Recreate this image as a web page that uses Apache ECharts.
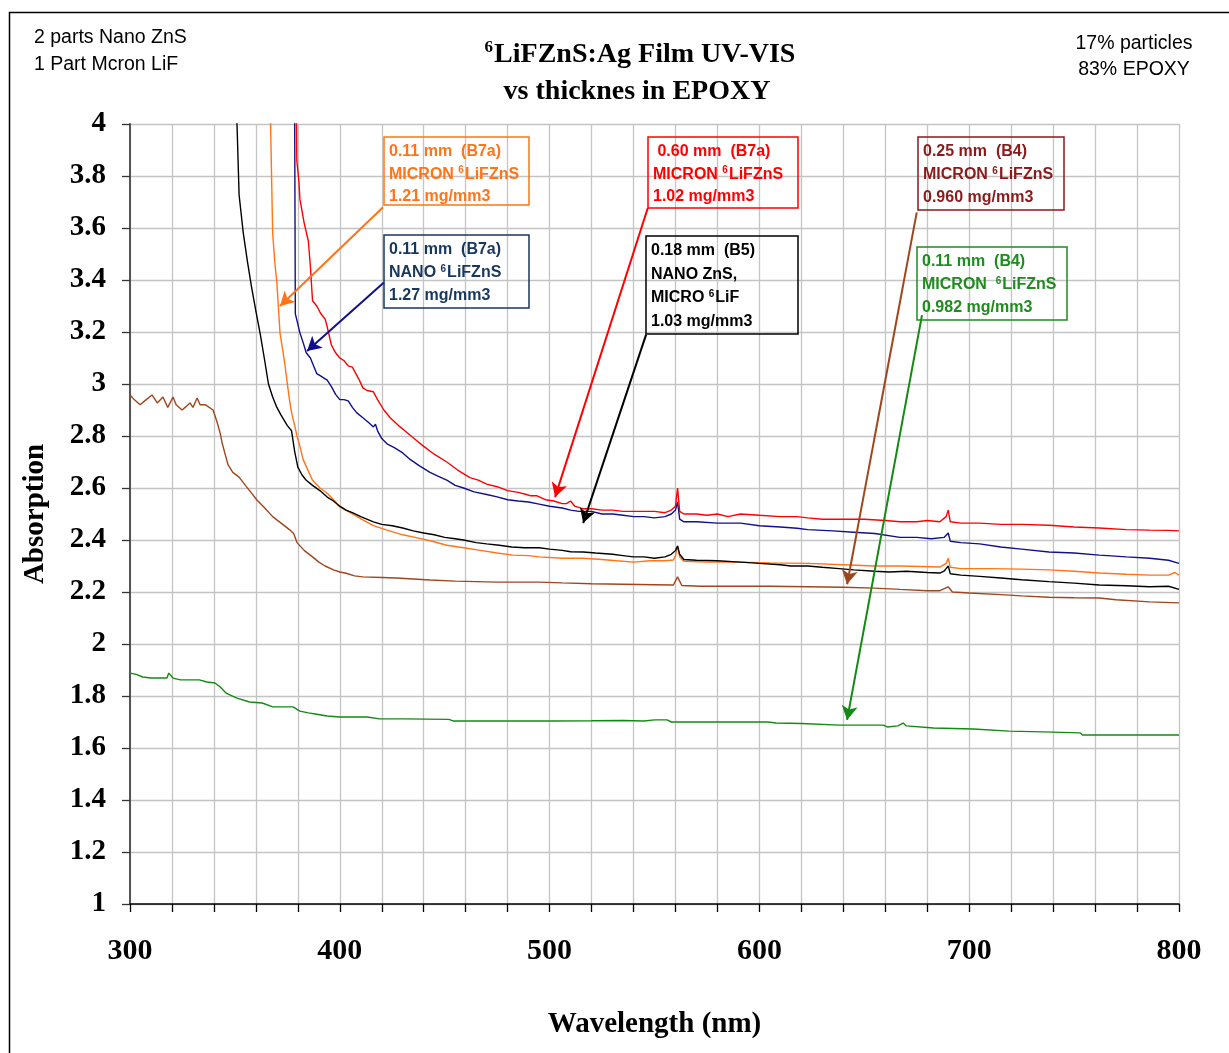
<!DOCTYPE html>
<html>
<head>
<meta charset="utf-8">
<script src="https://cdn.jsdelivr.net/npm/echarts@6/dist/echarts.min.js"></script>
<style>
  html, body { margin: 0; padding: 0; background: #fff; }
  #chart { width: 1229px; height: 1053px; }
</style>
</head>
<body>
<div id="chart"></div>
<script>
// wavelength (nm), absorption
const red = [[379, 4.4], [379.5, 3.86], [380.5, 3.78], [381, 3.71], [383, 3.62], [385, 3.55], [386, 3.45], [387, 3.32], [389, 3.3], [391, 3.27], [393, 3.25], [394, 3.22], [396, 3.15], [398, 3.12], [400, 3.1], [402, 3.09], [404, 3.07], [406, 3.065], [409, 3.02], [411, 2.985], [413, 2.975], [416, 2.97], [418, 2.94], [421, 2.9], [424, 2.87], [428, 2.84], [431, 2.82], [434, 2.8], [437, 2.78], [440, 2.76], [445, 2.73], [451, 2.7], [456, 2.67], [462, 2.64], [466, 2.63], [470, 2.615], [475, 2.605], [480, 2.59], [485, 2.583], [489, 2.575], [491, 2.57], [494, 2.57], [498, 2.555], [502, 2.55], [506, 2.54], [508, 2.54], [510, 2.55], [512, 2.53], [516, 2.52], [520, 2.52], [525, 2.515], [530, 2.515], [535, 2.51], [540, 2.51], [545, 2.51], [550, 2.51], [555, 2.505], [558, 2.515], [560, 2.53], [561, 2.6], [562, 2.51], [564, 2.5], [570, 2.5], [575, 2.495], [580, 2.5], [585, 2.49], [591, 2.5], [600, 2.495], [610, 2.49], [618, 2.49], [623, 2.485], [630, 2.48], [640, 2.48], [650, 2.48], [660, 2.475], [667, 2.47], [675, 2.47], [680, 2.475], [686, 2.47], [689, 2.49], [690, 2.515], [691, 2.47], [696, 2.465], [705, 2.465], [715, 2.46], [725, 2.46], [738, 2.457], [750, 2.45], [762, 2.446], [775, 2.44], [786, 2.438], [795, 2.437], [800, 2.435]];

const navy = [[378.3, 4.5], [378.8, 3.27], [380, 3.23], [381, 3.196], [382.5, 3.16], [384, 3.12], [386, 3.1], [387, 3.08], [389, 3.04], [391, 3.03], [393, 3.02], [394, 3.015], [396, 2.99], [398, 2.96], [400, 2.94], [402, 2.94], [404, 2.935], [406, 2.91], [408, 2.89], [411, 2.87], [414, 2.85], [416, 2.835], [417, 2.845], [418, 2.82], [420, 2.79], [422.5, 2.77], [426, 2.755], [430, 2.735], [433.5, 2.71], [438, 2.685], [443, 2.66], [447, 2.645], [451, 2.63], [455, 2.61], [459, 2.6], [464, 2.585], [470, 2.575], [475, 2.566], [480, 2.555], [485, 2.55], [490, 2.546], [495, 2.538], [500, 2.53], [506, 2.523], [510, 2.515], [514, 2.51], [520, 2.51], [525, 2.5], [530, 2.5], [535, 2.495], [540, 2.49], [545, 2.49], [550, 2.485], [555, 2.49], [558, 2.5], [560, 2.515], [561, 2.546], [562, 2.48], [564, 2.47], [570, 2.47], [580, 2.465], [591, 2.465], [600, 2.455], [610, 2.45], [618, 2.445], [623, 2.44], [635, 2.435], [645, 2.43], [655, 2.425], [667, 2.41], [675, 2.41], [682, 2.405], [688, 2.41], [690, 2.427], [691, 2.395], [696, 2.39], [705, 2.385], [715, 2.373], [725, 2.365], [738, 2.354], [750, 2.35], [762, 2.342], [775, 2.335], [786, 2.33], [795, 2.322], [800, 2.31]];

const black = [[349, 4.4], [351, 4.0], [352, 3.727], [354, 3.58], [356, 3.47], [358, 3.37], [360, 3.28], [362, 3.196], [364, 3.1], [366, 3.0], [368, 2.95], [370, 2.91], [372, 2.88], [375, 2.84], [377, 2.82], [378.5, 2.74], [380, 2.68], [382, 2.65], [384, 2.63], [387, 2.61], [390.5, 2.59], [394, 2.565], [397, 2.55], [400, 2.53], [403, 2.515], [406, 2.505], [410, 2.49], [416, 2.47], [420, 2.46], [425, 2.455], [430, 2.446], [435, 2.435], [440, 2.427], [445, 2.42], [450, 2.41], [455, 2.405], [459, 2.4], [465, 2.39], [470, 2.385], [476, 2.38], [482, 2.373], [488, 2.37], [495, 2.37], [500, 2.365], [506, 2.36], [510, 2.355], [516, 2.354], [522, 2.35], [530, 2.345], [535, 2.34], [540, 2.335], [545, 2.335], [550, 2.33], [555, 2.335], [558, 2.345], [560, 2.36], [561, 2.377], [562, 2.345], [564, 2.325], [570, 2.322], [580, 2.32], [591, 2.315], [600, 2.31], [610, 2.305], [615, 2.3], [623, 2.3], [630, 2.295], [638, 2.29], [645, 2.285], [655, 2.28], [662, 2.277], [670, 2.28], [680, 2.275], [686, 2.273], [688, 2.28], [689, 2.29], [690, 2.3], [691, 2.27], [696, 2.265], [705, 2.26], [715, 2.254], [725, 2.247], [738, 2.24], [750, 2.234], [762, 2.227], [775, 2.224], [786, 2.22], [795, 2.222], [800, 2.21]];

const orange = [[366.5, 4.4], [367, 4.0], [368, 3.58], [369, 3.47], [370, 3.39], [371.5, 3.196], [373, 3.12], [374, 3.065], [375, 3.0], [376, 2.94], [377, 2.89], [378.5, 2.84], [379.6, 2.8], [381, 2.76], [382.5, 2.71], [385, 2.665], [387, 2.63], [390.6, 2.6], [394, 2.58], [397, 2.555], [400, 2.527], [405, 2.505], [411, 2.477], [416, 2.455], [422.5, 2.438], [430, 2.42], [437, 2.408], [444, 2.395], [451, 2.38], [459, 2.37], [467, 2.36], [475, 2.35], [482.5, 2.342], [490, 2.34], [495, 2.335], [506, 2.33], [516, 2.33], [525, 2.325], [532, 2.32], [540, 2.315], [548, 2.32], [555, 2.32], [559, 2.323], [560, 2.34], [561, 2.377], [562, 2.335], [564, 2.318], [575, 2.315], [591, 2.315], [605, 2.312], [623, 2.31], [640, 2.305], [655, 2.3], [667, 2.3], [677, 2.298], [686, 2.296], [689, 2.31], [690, 2.33], [691, 2.295], [696, 2.29], [710, 2.29], [725, 2.288], [738, 2.285], [750, 2.28], [762, 2.273], [775, 2.268], [786, 2.265], [795, 2.265], [798, 2.275], [800, 2.265]];

const brown = [[300, 2.958], [302, 2.94], [304.8, 2.92], [307, 2.935], [310.5, 2.958], [313, 2.927], [315.7, 2.95], [318, 2.91], [320.5, 2.95], [322, 2.92], [324.8, 2.9], [327, 2.915], [328.6, 2.927], [330, 2.91], [332, 2.946], [333.4, 2.92], [336, 2.92], [339.6, 2.9], [341.5, 2.854], [343, 2.81], [344, 2.77], [346.7, 2.69], [349, 2.66], [352, 2.642], [355, 2.61], [357, 2.59], [360.5, 2.554], [364, 2.525], [368, 2.49], [372, 2.465], [376, 2.44], [378, 2.425], [379.6, 2.39], [383, 2.36], [387, 2.335], [390, 2.315], [393, 2.3], [397, 2.285], [400, 2.277], [403, 2.272], [407, 2.262], [411, 2.258], [420, 2.256], [427, 2.254], [435, 2.25], [443, 2.246], [455, 2.242], [465, 2.24], [475, 2.238], [485, 2.238], [495, 2.238], [506, 2.235], [520, 2.232], [535, 2.23], [550, 2.228], [559, 2.227], [561, 2.258], [563, 2.225], [572, 2.222], [590, 2.222], [605, 2.222], [623, 2.22], [640, 2.218], [655, 2.215], [667, 2.21], [680, 2.205], [686, 2.205], [690, 2.22], [692, 2.2], [700, 2.196], [715, 2.19], [725, 2.185], [738, 2.18], [750, 2.178], [762, 2.177], [770, 2.17], [786, 2.162], [800, 2.158]];

const green = [[300, 1.888], [303, 1.883], [306, 1.873], [310, 1.869], [317.6, 1.869], [318.5, 1.888], [320.5, 1.869], [324, 1.862], [333, 1.862], [336.7, 1.854], [340.5, 1.85], [343, 1.835], [346, 1.81], [351, 1.792], [357, 1.777], [363, 1.773], [368, 1.758], [377.7, 1.758], [381, 1.742], [385, 1.735], [389, 1.73], [394, 1.723], [400, 1.719], [413, 1.719], [419, 1.712], [430, 1.712], [452, 1.71], [454, 1.704], [476, 1.704], [500, 1.704], [520, 1.705], [535, 1.706], [545, 1.704], [550, 1.708], [556, 1.708], [558, 1.7], [575, 1.7], [590, 1.7], [604, 1.7], [608, 1.696], [620, 1.694], [638, 1.688], [659, 1.688], [661, 1.681], [666, 1.685], [668.5, 1.696], [670, 1.685], [683, 1.677], [702, 1.673], [719, 1.665], [735, 1.662], [753, 1.658], [754, 1.65], [780, 1.65], [800, 1.65]];

// annotation arrows: [from, to] in data coordinates
const arrowOrange = [[420.6, 3.68], [371.5, 3.30]];
const arrowNavy = [[421, 3.39], [384.4, 3.127]];
const arrowRed = [[546.8, 3.677], [502.6, 2.565]];
const arrowBlack = [[546, 3.19], [516, 2.465]];
const arrowBrown = [[675, 3.66], [641.8, 2.23]];
const arrowGreen = [[677.5, 3.265], [641.8, 1.708]];

const SANS = 'Liberation Sans, Arial, sans-serif';
const SERIF = 'Liberation Serif, Times New Roman, serif';

const chart = echarts.init(document.getElementById('chart'));

function series(name, data, color, arrow) {
  return {
    name: name,
    type: 'line',
    data: data,
    showSymbol: false,
    symbol: 'none',
    clip: true,
    lineStyle: { color: color, width: 1.4 },
    animation: false,
    z: 3,
    markLine: {
      silent: true,
      symbol: ['none', 'arrow'],
      symbolSize: [12, 14],
      label: { show: false },
      lineStyle: { color: color, width: 2, type: 'solid' },
      data: [[{ coord: arrow[0] }, { coord: arrow[1] }]],
      animation: false
    }
  };
}

// annotation box: rect + lines of (rich) text
function box(x, y, w, h, color, lines, lineH) {
  const children = [{
    type: 'rect',
    z: 20,
    shape: { x: x, y: y, width: w, height: h },
    style: { fill: 'none', stroke: color, lineWidth: 1.5 }
  }];
  lines.forEach(function (t, i) {
    children.push({
      type: 'text',
      z: 20,
      x: x + 5,
      y: y + 15 + i * lineH,
      style: {
        text: t,
        fill: color,
        font: 'bold 16px ' + SANS,
        textVerticalAlign: 'middle',
        rich: {
          s: { fontSize: 10, fontWeight: 'bold', fontFamily: SANS, fill: color, verticalAlign: 'top', padding: [0, 1, 8, 0] }
        }
      }
    });
  });
  return { type: 'group', children: children };
}

const option = {
  backgroundColor: '#fff',
  animation: false,
  grid: { left: 130, right: 50, top: 124, bottom: 149 },
  xAxis: {
    type: 'value',
    min: 300,
    max: 800,
    interval: 20,
    name: 'Wavelength (nm)',
    nameLocation: 'middle',
    nameGap: 106,
    nameTextStyle: { fontFamily: SERIF, fontWeight: 'bold', fontSize: 29, color: '#000' },
    axisLine: { show: true, onZero: false, lineStyle: { color: '#000', width: 1.5 } },
    axisTick: { show: true, length: 8, lineStyle: { color: '#000', width: 1.3 } },
    axisLabel: {
      margin: 32,
      fontFamily: SERIF, fontWeight: 'bold', fontSize: 30, color: '#000',
      formatter: function (v) { return v % 100 === 0 ? String(v) : ''; }
    },
    splitLine: { show: true, lineStyle: { color: '#c4c4c4', width: 1.3 } }
  },
  yAxis: {
    type: 'value',
    min: 1,
    max: 4,
    interval: 0.2,
    name: 'Absorption',
    nameLocation: 'middle',
    nameGap: 80,
    nameTextStyle: { fontFamily: SERIF, fontWeight: 'bold', fontSize: 29, color: '#000' },
    axisLine: { show: true, lineStyle: { color: '#555', width: 2 } },
    axisTick: { show: true, length: 8, lineStyle: { color: '#333', width: 1.3 } },
    axisLabel: {
      margin: 24,
      fontFamily: SERIF, fontWeight: 'bold', fontSize: 29, color: '#000',
      formatter: function (v) { return String(Math.round(v * 10) / 10); }
    },
    splitLine: { show: true, lineStyle: { color: '#c4c4c4', width: 1.3 } }
  },
  series: [
    series('brown', brown, '#a0461e', arrowBrown),
    series('green', green, '#138a13', arrowGreen),
    series('orange', orange, '#ff7416', arrowOrange),
    series('black', black, '#000000', arrowBlack),
    series('navy', navy, '#10108a', arrowNavy),
    series('red', red, '#ff0000', arrowRed)
  ],
  graphic: [
    {
      type: 'rect', z: 0, silent: true,
      shape: { x: 9.5, y: 12.5, width: 1240, height: 1060 },
      style: { fill: 'none', stroke: '#000', lineWidth: 1.5 }
    },
    { type: 'text', x: 34, y: 38, style: { text: '2 parts Nano ZnS', font: '19.5px ' + SANS, fill: '#000', textVerticalAlign: 'middle' } },
    { type: 'text', x: 34, y: 65, style: { text: '1 Part Mcron LiF', font: '19.5px ' + SANS, fill: '#000', textVerticalAlign: 'middle' } },
    { type: 'text', x: 1134, y: 44, style: { text: '17% particles', font: '19.5px ' + SANS, fill: '#000', textAlign: 'center', textVerticalAlign: 'middle' } },
    { type: 'text', x: 1134, y: 70, style: { text: '83% EPOXY', font: '19.5px ' + SANS, fill: '#000', textAlign: 'center', textVerticalAlign: 'middle' } },
    {
      type: 'text', x: 640, y: 55,
      style: {
        text: '{s|6}{t|LiFZnS:Ag Film UV-VIS}',
        textAlign: 'center', textVerticalAlign: 'middle',
        rich: {
          t: { fontFamily: SERIF, fontWeight: 'bold', fontSize: 28, fill: '#000' },
          s: { fontFamily: SERIF, fontWeight: 'bold', fontSize: 17, fill: '#000', verticalAlign: 'top', padding: [0, 1, 14, 0] }
        }
      }
    },
    {
      type: 'text', x: 637, y: 92,
      style: { text: 'vs thicknes in EPOXY', font: 'bold 28px ' + SERIF, fill: '#000', textAlign: 'center', textVerticalAlign: 'middle' }
    },
    box(384, 137, 145, 68, '#ff7416', ['0.11 mm  (B7a)', 'MICRON {s|6}LiFZnS', '1.21 mg/mm3'], 22.5),
    box(384, 235, 145, 73, '#17375e', ['0.11 mm  (B7a)', 'NANO {s|6}LiFZnS', '1.27 mg/mm3'], 23),
    box(648, 137, 150, 71, '#ff0000', [' 0.60 mm  (B7a)', 'MICRON {s|6}LiFZnS', '1.02 mg/mm3'], 22.5),
    box(646, 236, 152, 98, '#000000', ['0.18 mm  (B5)', 'NANO ZnS,', 'MICRO {s|6}LiF', '1.03 mg/mm3'], 23.5),
    box(918, 137, 146, 73, '#8b1a1a', ['0.25 mm  (B4)', 'MICRON {s|6}LiFZnS', '0.960 mg/mm3'], 23),
    box(917, 247, 150, 73, '#1e8c1e', ['0.11 mm  (B4)', 'MICRON  {s|6}LiFZnS', '0.982 mg/mm3'], 23)
  ]
};

chart.setOption(option);
</script>
</body>
</html>
